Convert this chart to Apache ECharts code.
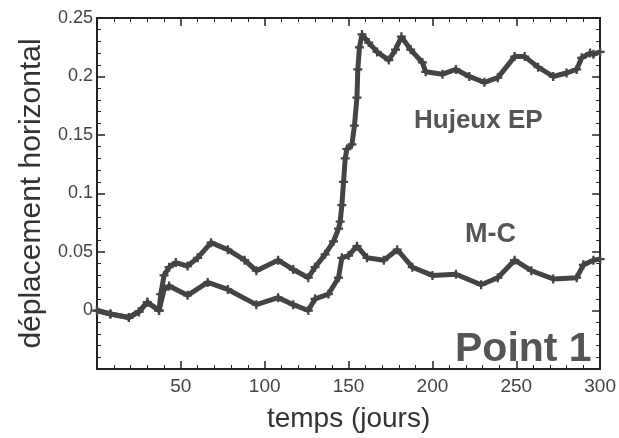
<!DOCTYPE html>
<html>
<head>
<meta charset="utf-8">
<script src="https://cdn.jsdelivr.net/npm/echarts@6/dist/echarts.min.js"></script>
<style>html,body{margin:0;padding:0;background:#fff;}#c{width:619px;height:438px;}</style>
</head>
<body>
<div id="c"></div>
<script>
const xRange = [0, 300];
const yRange = [-0.05, 0.25];

const mcX = [0, 8, 19, 25, 30, 37, 40, 43, 54, 66, 78, 95, 108, 117, 126, 130, 138, 144, 146, 150, 155, 161, 171, 179, 188, 200, 214, 229, 239, 249, 259, 272, 286, 290, 296, 300];
const mcY = [0.000, -0.003, -0.006, -0.001, 0.007, 0.000, 0.018, 0.021, 0.013, 0.024, 0.018, 0.005, 0.011, 0.005, 0.000, 0.010, 0.014, 0.028, 0.045, 0.047, 0.055, 0.045, 0.043, 0.052, 0.037, 0.030, 0.031, 0.022, 0.028, 0.043, 0.034, 0.027, 0.028, 0.039, 0.043, 0.044];

const hjX = [0, 8, 19, 25, 30, 37, 38, 40, 43, 47, 54, 60, 68, 78, 88, 95, 108, 117, 126, 130, 136, 141, 144, 145, 146, 147, 148, 149, 152, 153.5, 155, 155.5, 156.5, 158, 162, 167, 174, 178, 181.5, 187, 194, 196, 206, 214, 222, 231, 239, 249, 255, 263, 272, 280, 286, 289, 294, 296, 300];
const hjY = [0.000, -0.003, -0.006, -0.001, 0.007, 0.000, 0.014, 0.030, 0.037, 0.041, 0.038, 0.045, 0.058, 0.052, 0.043, 0.034, 0.043, 0.035, 0.028, 0.037, 0.048, 0.059, 0.070, 0.076, 0.090, 0.110, 0.130, 0.138, 0.142, 0.158, 0.182, 0.206, 0.225, 0.236, 0.229, 0.221, 0.214, 0.223, 0.234, 0.223, 0.212, 0.204, 0.202, 0.206, 0.200, 0.195, 0.199, 0.217, 0.217, 0.208, 0.200, 0.203, 0.206, 0.216, 0.220, 0.219, 0.221];

const mcData = mcX.map((x, i) => [x, mcY[i]]);
const hjData = hjX.map((x, i) => [x, hjY[i]]);

const plus = 'path://M3,0h2v3h3v2h-3v3h-2v-3h-3v-2h3z';
const lineCol = '#444';
const txtCol = '#444';
const font = 'Liberation Sans';
const hiddenSplit = { show: true, lineStyle: { color: '#ffffff', opacity: 0 } };

const chart = echarts.init(document.getElementById('c'));

chart.setOption({
  animation: false,
  title: [
    { text: 'Hujeux EP', left: 414, top: 108, padding: 0,
      textStyle: { fontFamily: font, fontSize: 26, fontWeight: 'bold', color: '#555' } },
    { text: 'M-C', left: 465, top: 221, padding: 0,
      textStyle: { fontFamily: font, fontSize: 27, fontWeight: 'bold', color: '#555' } },
    { text: 'Point 1', left: 455, top: 329, padding: 0,
      textStyle: { fontFamily: font, fontSize: 41, fontWeight: 'bold', color: '#555' } }
  ],
  grid: { left: 97, right: 8, top: 18, bottom: 66 },
  xAxis: [
    {
      type: 'value', min: xRange[0], max: xRange[1], interval: 50,
      name: 'temps (jours)', nameLocation: 'middle', nameGap: 36,
      nameTextStyle: { fontFamily: font, fontSize: 28, color: '#333' },
      splitLine: hiddenSplit,
      axisLine: { show: true, onZero: false, lineStyle: { color: '#222', width: 2 } },
      axisTick: { show: true, inside: true, length: 8, lineStyle: { color: '#222', width: 1.5 } },
      minorTick: { show: true, length: 4, lineStyle: { color: '#222' } },
      axisLabel: { showMinLabel: false, fontFamily: font, fontSize: 19, color: txtCol }
    },
    {
      type: 'value', min: xRange[0], max: xRange[1], interval: 50, position: 'top',
      splitLine: hiddenSplit,
      axisLine: { show: true, onZero: false, lineStyle: { color: '#222', width: 2 } },
      axisTick: { show: true, inside: true, length: 8, lineStyle: { color: '#222', width: 1.5 } },
      minorTick: { show: true, length: 4, lineStyle: { color: '#222' } },
      axisLabel: { show: false }
    }
  ],
  yAxis: [
    {
      type: 'value', min: yRange[0], max: yRange[1], interval: 0.05,
      name: 'déplacement horizontal', nameLocation: 'middle', nameGap: 46,
      nameTextStyle: { fontFamily: font, fontSize: 30, color: '#333' },
      splitLine: hiddenSplit,
      axisLine: { show: true, onZero: false, lineStyle: { color: '#222', width: 2 } },
      axisTick: { show: true, inside: true, length: 8, lineStyle: { color: '#222', width: 1.5 } },
      minorTick: { show: true, length: 4, lineStyle: { color: '#222' } },
      axisLabel: { showMinLabel: false, margin: 4, fontFamily: font, fontSize: 18, color: txtCol }
    },
    {
      type: 'value', min: yRange[0], max: yRange[1], interval: 0.05, position: 'right',
      splitLine: hiddenSplit,
      axisLine: { show: true, onZero: false, lineStyle: { color: '#222', width: 2 } },
      axisTick: { show: true, inside: true, length: 8, lineStyle: { color: '#222', width: 1.5 } },
      minorTick: { show: true, length: 4, lineStyle: { color: '#222' } },
      axisLabel: { show: false }
    }
  ],
  series: [
    {
      name: 'M-C', type: 'line', data: mcData,
      lineStyle: { color: lineCol, width: 5 },
      symbol: plus, symbolSize: 9, showSymbol: true,
      itemStyle: { color: lineCol }
    },
    {
      name: 'Hujeux EP', type: 'line', data: hjData,
      lineStyle: { color: lineCol, width: 5 },
      symbol: plus, symbolSize: 9, showSymbol: true,
      itemStyle: { color: lineCol }
    }
  ]
});
</script>
</body>
</html>
